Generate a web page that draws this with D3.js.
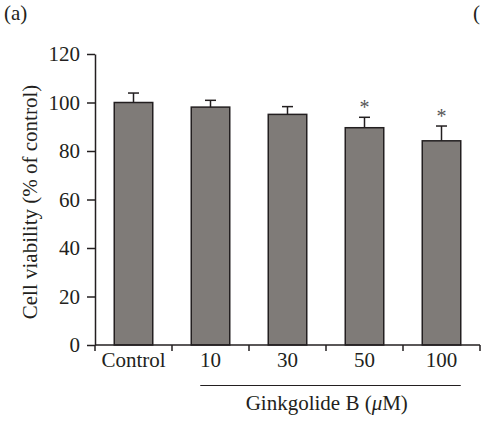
<!DOCTYPE html>
<html>
<head>
<meta charset="utf-8">
<script src="https://cdn.jsdelivr.net/npm/d3@7"></script>
<style>
    body { margin: 0; background: #fff; }
    text { font-family: "Liberation Serif", "DejaVu Serif", serif; fill: #231f20; }
</style>
</head>
<body>
<script>
//chart values
let categories = ["Control", "10", "30", "50", "100"];
let means = [100, 98.1, 95.1, 89.6, 84.2];
let errors = [3.9, 2.8, 3.2, 4.3, 6.1];
let significant = [false, false, false, true, true];
let yTicks = [0, 20, 40, 60, 80, 100, 120];

let width = 481,
    height = 421;

let fontSize = "21px";

let svg = d3.select("body")
    .append("svg")
    .attr("width", width)
    .attr("height", height);

//scales
let x = d3.scaleBand()
    .domain(categories)
    .range([95, 480])
    .paddingInner(0.5)
    .paddingOuter(0.25);

let y = d3.scaleLinear()
    .domain([0, 120])
    .range([345, 54]);

let ink = "#231f20";

//bars
svg.selectAll(".bar")
    .data(categories)
    .enter()
    .append("rect")
    .attr("class", "bar")
    .attr("x", d => x(d))
    .attr("width", x.bandwidth())
    .attr("y", (d, i) => y(means[i]))
    .attr("height", (d, i) => y(0) - y(means[i]))
    .attr("fill", "#7f7b78")
    .attr("stroke", ink)
    .attr("stroke-width", 1.5);

//error bars (upper only)
let err = svg.selectAll(".err")
    .data(categories)
    .enter()
    .append("g")
    .attr("class", "err")
    .attr("stroke", ink)
    .attr("stroke-width", 1.5);

err.append("line")
    .attr("x1", d => x(d) + x.bandwidth() / 2)
    .attr("x2", d => x(d) + x.bandwidth() / 2)
    .attr("y1", (d, i) => y(means[i]))
    .attr("y2", (d, i) => y(means[i] + errors[i]));

err.append("line")
    .attr("x1", d => x(d) + x.bandwidth() / 2 - 5.5)
    .attr("x2", d => x(d) + x.bandwidth() / 2 + 5.5)
    .attr("y1", (d, i) => y(means[i] + errors[i]))
    .attr("y2", (d, i) => y(means[i] + errors[i]));

//significance stars
svg.selectAll(".star")
    .data(categories.filter((d, i) => significant[i]))
    .enter()
    .append("text")
    .attr("class", "star")
    .attr("x", d => x(d) + x.bandwidth() / 2)
    .attr("y", d => {
        let i = categories.indexOf(d);
        return y(means[i] + errors[i]) - 3;
    })
    .attr("text-anchor", "middle")
    .style("font-size", "20px")
    .style("fill", "#555")
    .text("*");

//y axis
let yAxis = svg.append("g")
    .attr("transform", "translate(95,0)")
    .call(d3.axisLeft(y).tickValues(yTicks).tickSize(8).tickPadding(7).tickSizeOuter(0));

//x axis with ticks at band edges
let edges = categories.map(d => x(d) - x.step() * x.paddingInner() / 2);
edges.push(480);

let xAxis = svg.append("g")
    .attr("transform", "translate(0,345)");

xAxis.append("line")
    .attr("x1", 95).attr("x2", 480)
    .attr("stroke", ink).attr("stroke-width", 1.5);

xAxis.selectAll(".xtick")
    .data(edges)
    .enter()
    .append("line")
    .attr("class", "xtick")
    .attr("x1", d => d).attr("x2", d => d)
    .attr("y1", 0).attr("y2", 6)
    .attr("stroke", ink).attr("stroke-width", 1.5);

xAxis.selectAll(".xlab")
    .data(categories)
    .enter()
    .append("text")
    .attr("class", "xlab")
    .attr("x", d => x(d) + x.bandwidth() / 2)
    .attr("y", 22)
    .attr("text-anchor", "middle")
    .style("font-size", fontSize)
    .text(d => d);

yAxis.select(".domain").attr("stroke", ink).attr("stroke-width", 1.5);
yAxis.selectAll(".tick line").attr("stroke", ink).attr("stroke-width", 1.5);
yAxis.selectAll(".tick text")
    .style("font-size", fontSize)
    .style("font-family", "Liberation Serif, DejaVu Serif, serif")
    .attr("fill", ink);

//bracket under the treatment groups
let bx1 = x("10") + 9,
    bx2 = x("100") + x.bandwidth();

svg.append("line")
    .attr("x1", bx1)
    .attr("x2", bx2)
    .attr("y1", 385.5).attr("y2", 385.5)
    .attr("stroke", ink).attr("stroke-width", 1.2);

let gTitle = svg.append("text")
    .attr("x", x("30") + x.bandwidth() + 20)
    .attr("y", 410)
    .attr("text-anchor", "middle")
    .style("font-size", fontSize);
gTitle.append("tspan").text("Ginkgolide B (");
gTitle.append("tspan").style("font-style", "italic").text("\u03bc");
gTitle.append("tspan").text("M)");

//y axis title
svg.append("text")
    .attr("transform", "translate(37,202) rotate(-90)")
    .attr("text-anchor", "middle")
    .style("font-size", fontSize)
    .text("Cell viability (% of control)");

//panel labels
svg.append("text")
    .attr("x", 4).attr("y", 20)
    .style("font-size", fontSize)
    .text("(a)");

svg.append("text")
    .attr("x", 473).attr("y", 20)
    .style("font-size", fontSize)
    .text("(");
</script>
</body>
</html>
